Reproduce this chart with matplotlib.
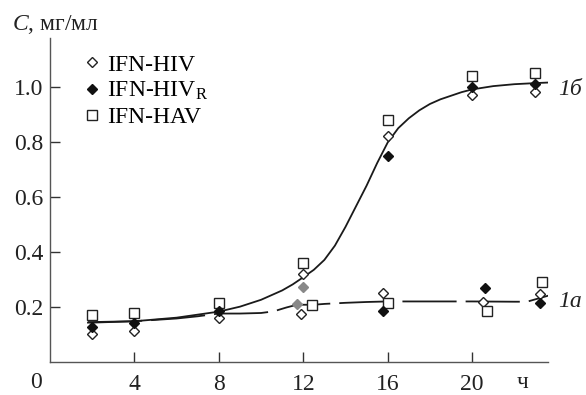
import matplotlib
matplotlib.use("Agg")
import matplotlib.pyplot as plt

plt.rcParams['font.family'] = ['Liberation Serif', 'DejaVu Serif']
plt.rcParams['mathtext.fontset'] = 'custom'
plt.rcParams['mathtext.rm'] = 'Liberation Serif'
plt.rcParams['mathtext.it'] = 'Liberation Serif:italic'

# measured points, time in hours, concentration in mg/ml
hiv_t = [2, 4, 8, 11.9, 12, 15.8, 16, 20, 20.5, 23, 23.2]
hiv_c = [0.104, 0.116, 0.163, 0.176, 0.322, 0.254, 0.824, 0.973, 0.221, 0.985, 0.249]

hivr_t = [2, 4, 8, 16, 20, 20.6, 23, 23.2]
hivr_c = [0.128, 0.145, 0.187, 0.751, 1.003, 0.270, 1.012, 0.215]
# the two grey (faded) filled points near 12 h
hivr_grey_t = [11.7, 12.0]
hivr_grey_c = [0.213, 0.276]
hivr_low16_t = [15.8]
hivr_low16_c = [0.188]

hav_t = [2, 4, 8, 12, 12.4, 16, 16.03, 20, 20.7, 23, 23.3]
hav_c = [0.173, 0.181, 0.217, 0.361, 0.208, 0.882, 0.215, 1.042, 0.187, 1.052, 0.294]

# fitted curves
curve_b_t = [1.8, 2, 4, 6, 8, 9, 10, 11, 11.5, 12, 12.5, 13, 13.5, 14, 14.5, 15, 15.5,
             16, 16.5, 17, 17.5, 18, 18.5, 19, 19.5, 20, 21, 22, 23, 23.6]
curve_b_c = [0.145, 0.145, 0.150, 0.163, 0.185, 0.203, 0.228, 0.262, 0.284, 0.310, 0.337,
             0.373, 0.425, 0.493, 0.568, 0.643, 0.725, 0.800, 0.852, 0.888, 0.917, 0.940,
             0.957, 0.970, 0.983, 0.993, 1.005, 1.012, 1.016, 1.018]

curve_a_t = [1.8, 2, 4, 6, 7, 8, 9, 10, 10.6, 11.2, 11.7, 12.5, 13, 14, 15, 16, 18, 20,
             22, 22.6, 23.1, 23.7]
curve_a_c = [0.147, 0.147, 0.150, 0.160, 0.168, 0.178, 0.178, 0.180, 0.186, 0.200, 0.210,
             0.210, 0.213, 0.217, 0.220, 0.222, 0.222, 0.222, 0.221, 0.221, 0.232, 0.245]

x_ticks = [4, 8, 12, 16, 20]
y_ticks = [0.2, 0.4, 0.6, 0.8, 1.0]
y_tick_labels = ['0.2', '0.4', '0.6', '0.8', '1.0']

fig = plt.figure(figsize=(5.86, 3.95), dpi=100)
ax = fig.add_axes([0.0853, 0.0823, 0.85, 0.8215])

ax.plot(curve_b_t, curve_b_c, color='#1a1a1a', lw=1.3)
ax.plot(curve_a_t, curve_a_c, color='#1a1a1a', lw=1.3, dashes=(30, 5))

ms = 6
ax.plot(hiv_t, hiv_c, ls='none', marker='D', ms=ms - 1, mfc='white', mec='#222222', mew=1,
        label='IFN-HIV', zorder=3)
ax.plot(hivr_t + hivr_low16_t, hivr_c + hivr_low16_c, ls='none', marker='D', ms=ms - 1,
        mfc='#111111', mec='#111111', label='IFN-HIV$_{\\mathrm{R}}$', zorder=4)
ax.plot(hivr_grey_t, hivr_grey_c, ls='none', marker='D', ms=ms - 1, mfc='#888888',
        mec='#888888', zorder=4)
ax.plot(hav_t, hav_c, ls='none', marker='s', ms=ms + 1, mfc='white', mec='#222222', mew=1,
        label='IFN-HAV', zorder=3)

ax.set_xlim(0, 23.6)
ax.set_ylim(0, 1.18)
ax.set_xticks(x_ticks)
ax.set_xticklabels([str(t) for t in x_ticks])
ax.set_yticks(y_ticks)
ax.set_yticklabels(y_tick_labels)
ax.tick_params(direction='in', length=7, width=1, labelsize=17, colors='#333333',
               labelcolor='#222222')
ax.tick_params(axis='x', pad=8)
ax.tick_params(axis='y', pad=5)
for side in ['top', 'right']:
    ax.spines[side].set_visible(False)
for side in ['left', 'bottom']:
    ax.spines[side].set_color('#555555')
    ax.spines[side].set_linewidth(1)

ax.text(-0.66, -0.063, '0', fontsize=17, ha='center', va='center', color='#222222',
        transform=ax.get_xaxis_transform(), clip_on=False)
ax.text(22.4, -0.063, 'ч', fontsize=17, ha='center', va='center', color='#222222',
        transform=ax.get_xaxis_transform(), clip_on=False)
ax.text(24.1, 0.993, '1б', fontsize=17, style='italic', ha='left', va='center',
        color='#222222', clip_on=False)
ax.text(24.1, 0.22, '1a', fontsize=17, style='italic', ha='left', va='center',
        color='#222222', clip_on=False)
fig.text(12 / 586, 1 - 25 / 395, '$C$, мг/мл', fontsize=17, ha='left', va='center',
         color='#222222')

ax.legend(loc='upper left', bbox_to_anchor=(0.0616, 0.95), frameon=False, fontsize=17,
          handlelength=1.0, handletextpad=0.1, borderpad=0, borderaxespad=0,
          labelspacing=0.18, numpoints=1)

fig.savefig('out.png', dpi=100)
